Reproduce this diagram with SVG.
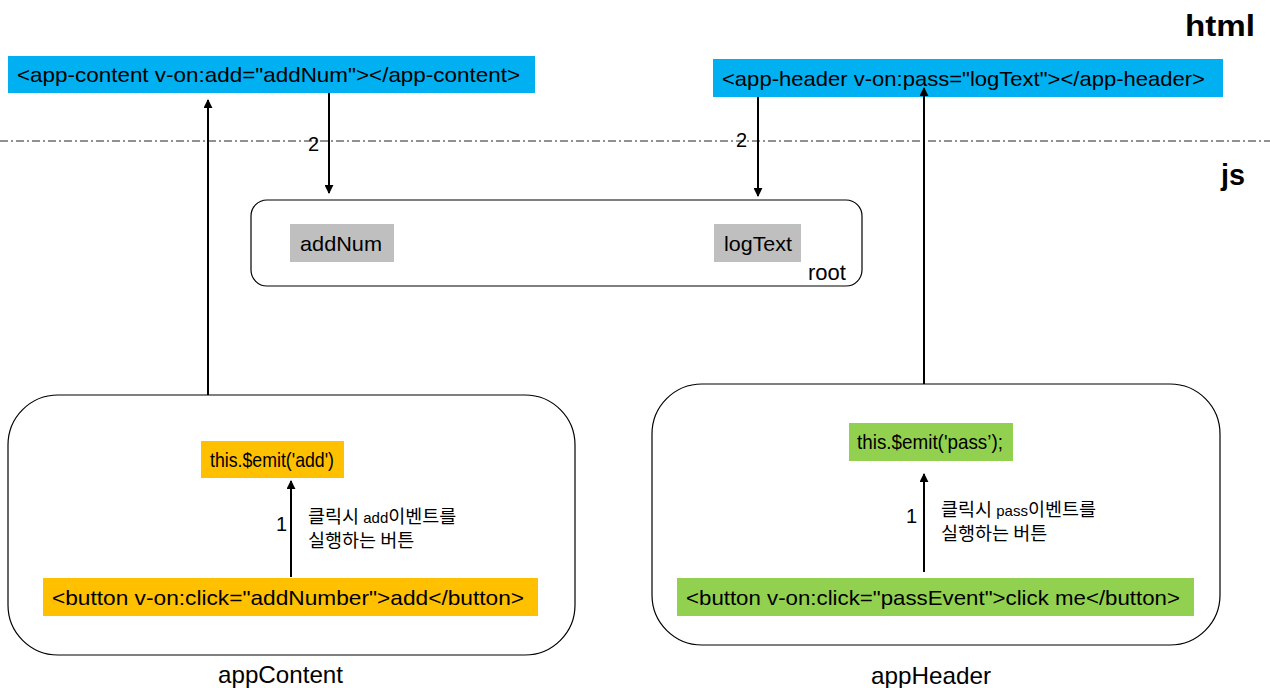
<svg xmlns="http://www.w3.org/2000/svg" width="1270" height="688" viewBox="0 0 1270 688">
<style>
text{font-family:"Liberation Sans","Noto Sans CJK KR",sans-serif;fill:#000}
.t{font-size:21px}
.n{font-size:20px}
.k{font-size:18.5px;font-family:"Noto Sans CJK KR","Liberation Sans",sans-serif}
.s{font-size:15px;font-family:"Liberation Sans",sans-serif}
.b{font-size:30px;font-weight:bold}
.lbl{font-size:24px}
.frame{fill:#fff;stroke:#000;stroke-width:1.2}
.ln{stroke:#000;stroke-width:2;fill:none}
</style>
<defs>
<marker id="ah" viewBox="0 0 10 10" refX="9" refY="5" markerWidth="4.5" markerHeight="4.5" orient="auto" markerUnits="strokeWidth">
<path d="M0,0 L10,5 L0,10 z" fill="#000"/>
</marker>
</defs>
<rect width="1270" height="688" fill="#fff"/>
<line x1="0" y1="141" x2="1270" y2="141" stroke="#222" stroke-width="1" stroke-dasharray="8,3,2,3"/>
<text id="html-label" class="b" x="1185" y="36" textLength="70" lengthAdjust="spacingAndGlyphs">html</text>
<text id="js-label" class="b" x="1221" y="185" textLength="24" lengthAdjust="spacingAndGlyphs">js</text>

<g id="app-content-tag">
<rect x="8" y="56" width="527" height="37" fill="#00B0F0"/>
<text class="t" x="17" y="82" textLength="503" lengthAdjust="spacingAndGlyphs">&lt;app-content v-on:add="addNum"&gt;&lt;/app-content&gt;</text>
</g>
<g id="app-header-tag">
<rect x="713" y="59" width="510" height="38" fill="#00B0F0"/>
<text class="t" x="722" y="86" textLength="483" lengthAdjust="spacingAndGlyphs">&lt;app-header v-on:pass="logText"&gt;&lt;/app-header&gt;</text>
</g>

<g id="root">
<rect class="frame" x="251" y="200" width="611" height="86" rx="16"/>
<text x="808" y="280" style="font-size:22px">root</text>
</g>
<g id="addNum">
<rect x="290" y="224" width="104" height="38" fill="#BFBFBF"/>
<text class="t" x="300" y="251" textLength="82" lengthAdjust="spacingAndGlyphs">addNum</text>
</g>
<g id="logText">
<rect x="714" y="224" width="87" height="38" fill="#BFBFBF"/>
<text class="t" x="724" y="251" textLength="68" lengthAdjust="spacingAndGlyphs">logText</text>
</g>

<g id="appContent">
<rect class="frame" x="8" y="395" width="567" height="260" rx="50"/>
<text class="lbl" x="218" y="683" textLength="125" lengthAdjust="spacingAndGlyphs">appContent</text>
</g>
<g id="emit-add">
<rect x="201" y="441" width="143" height="37" fill="#FFC000"/>
<text class="t" x="210" y="467" textLength="124" lengthAdjust="spacingAndGlyphs">this.$emit('add')</text>
</g>
<g id="button-add">
<rect x="43" y="578" width="495" height="38" fill="#FFC000"/>
<text class="t" x="52" y="605" textLength="472" lengthAdjust="spacingAndGlyphs">&lt;button v-on:click="addNumber"&gt;add&lt;/button&gt;</text>
</g>
<g id="note-add">
<text class="k" x="308" y="523">클릭시 <tspan class="s">add</tspan>이벤트를</text>
<text class="k" x="308" y="547">실행하는 버튼</text>
</g>

<g id="appHeader">
<rect class="frame" x="652" y="384" width="568" height="261" rx="50"/>
<text class="lbl" x="871" y="684" textLength="120" lengthAdjust="spacingAndGlyphs">appHeader</text>
</g>
<g id="emit-pass">
<rect x="849" y="423" width="164" height="38" fill="#92D050"/>
<text class="t" x="857" y="449" textLength="146" lengthAdjust="spacingAndGlyphs">this.$emit('pass’);</text>
</g>
<g id="button-pass">
<rect x="677" y="578" width="517" height="38" fill="#92D050"/>
<text class="t" x="686" y="605" textLength="494" lengthAdjust="spacingAndGlyphs">&lt;button v-on:click="passEvent"&gt;click me&lt;/button&gt;</text>
</g>
<g id="note-pass">
<text class="k" x="941" y="516">클릭시 <tspan class="s">pass</tspan>이벤트를</text>
<text class="k" x="941" y="540">실행하는 버튼</text>
</g>

<g id="connectors">
<line class="ln" x1="208" y1="395" x2="208" y2="100" marker-end="url(#ah)"/>
<line class="ln" x1="329" y1="93" x2="329" y2="193" marker-end="url(#ah)"/>
<text class="n" x="308" y="151">2</text>
<line class="ln" x1="758" y1="97" x2="758" y2="196" marker-end="url(#ah)"/>
<text class="n" x="736" y="147">2</text>
<line class="ln" x1="924" y1="384" x2="924" y2="88" marker-end="url(#ah)"/>
<line class="ln" x1="291" y1="577" x2="291" y2="481" marker-end="url(#ah)"/>
<text class="n" x="276" y="531">1</text>
<line class="ln" x1="924" y1="572" x2="924" y2="474" marker-end="url(#ah)"/>
<text class="n" x="906" y="523">1</text>
</g>
</svg>
